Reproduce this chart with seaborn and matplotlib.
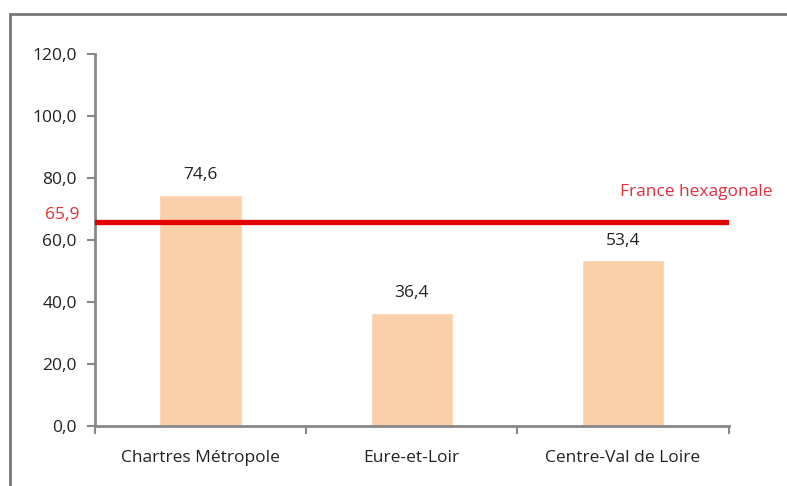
import matplotlib
matplotlib.use("Agg")
import matplotlib.pyplot as plt
import matplotlib.transforms as mtransforms
import seaborn as sns
import pandas as pd
from matplotlib.patches import Rectangle
from matplotlib.ticker import FixedLocator

# Données
categories = ["Chartres Métropole", "Eure-et-Loir", "Centre-Val de Loire"]
valeurs = [74.6, 36.4, 53.4]
reference = 65.9
reference_label = "France hexagonale"
yticks = [0, 20, 40, 60, 80, 100, 120]

df = pd.DataFrame({"zone": categories, "valeur": valeurs})

sns.set_style("white")
plt.rcParams["font.family"] = ["Open Sans", "DejaVu Sans"]

fig = plt.figure(figsize=(7.87, 4.86), dpi=100)
ax = fig.add_axes([0.1207, 0.1235, 0.805, 0.7655])

sns.barplot(data=df, x="zone", y="valeur", color="#FAD0AA", saturation=1,
            width=0.39, ax=ax)

# Ligne de référence
ax.axhline(reference, color="#E00000", lw=3.8, zorder=5)
trans = mtransforms.blended_transform_factory(
    ax.transAxes, ax.transData) + mtransforms.ScaledTranslation(-16 / 100, 0, fig.dpi_scale_trans)
ax.text(0, reference + 2.3, f"{reference:.1f}".replace(".", ","),
        color="#E03030", fontsize=12.5, ha="right", va="center", transform=trans)
ax.text(2.71, 75.5, reference_label, color="#E03040",
        fontsize=12.5, ha="right", va="center")

# Etiquettes des barres
for i, v in enumerate(valeurs):
    ax.text(i, v + 3.8, f"{v:.1f}".replace(".", ","), ha="center", va="bottom",
            fontsize=12.5, color="#222222")

ax.set_ylim(0, 120)
ax.set_xlim(-0.5, 2.5)
ax.set_yticks(yticks)
ax.set_yticklabels([f"{t:.1f}".replace(".", ",") for t in yticks])
ax.xaxis.set_minor_locator(FixedLocator([-0.5, 0.5, 1.5, 2.5]))
ax.tick_params(axis="x", which="major", length=0, pad=17, labelsize=12.5,
               colors="#222222")
ax.tick_params(axis="x", which="minor", length=6, width=1.5, color="#888888",
               bottom=True)
ax.tick_params(axis="y", length=6, width=1.5, color="#888888", labelsize=12.5,
               labelcolor="#222222", left=True, pad=7)
ax.set_xlabel("")
ax.set_ylabel("")
for s in ["top", "right"]:
    ax.spines[s].set_visible(False)
for s in ["left", "bottom"]:
    ax.spines[s].set_color("#888888")
    ax.spines[s].set_linewidth(2)

# Cadre
fig.patches.append(Rectangle((0.013, -0.1), 1.2, 1.072, transform=fig.transFigure,
                             fill=False, edgecolor="#777777", lw=2))

fig.savefig("out.png", dpi=100)
